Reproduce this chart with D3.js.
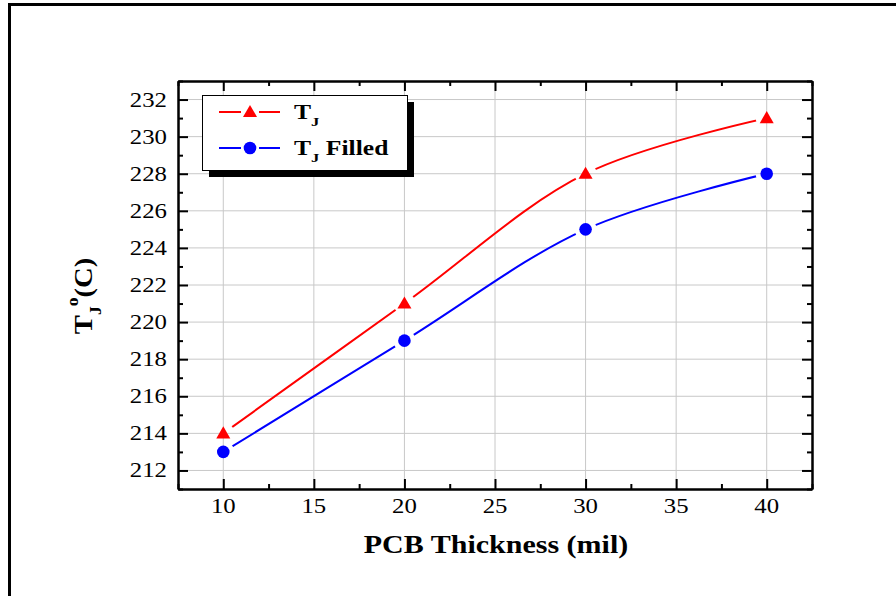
<!DOCTYPE html>
<html>
<head>
<meta charset="UTF-8">
<title>TJ vs PCB thickness</title>
<script src="https://d3js.org/d3.v7.min.js"></script>
<style>
body { margin:0; background:white; }
text { font-family: "Liberation Serif", "Times New Roman", serif; }
</style>
</head>
<body>
<script type="text/javascript">
// data
var thickness = [10, 20, 30, 40]
var tj = [214, 221, 228, 231]
var tjFilled = [213, 219, 225, 228]
var xTicks = [10, 15, 20, 25, 30, 35, 40]
var yTicks = [212, 214, 216, 218, 220, 222, 224, 226, 228, 230, 232]
var seriesNames = ["T", "T"]

var svg = d3.select("body")
 .append("svg")
 .attr("width", 896)
 .attr("height", 596)
 .style("background", "white")

// outer frame (only left + top visible)
svg.append("path")
 .attr("d", "M9.5,596 V4.5 H896")
 .attr("fill", "none")
 .attr("stroke", "black")
 .attr("stroke-width", 3)

var pLeft = 178, pRight = 812, pTop = 81, pBottom = 489
var x = d3.scaleLinear().domain([7.5, 42.5]).range([pLeft, pRight])
var y = d3.scaleLinear().domain([211, 233]).range([pBottom, pTop])

// grid
var g = svg.append("g")
g.selectAll(".gx").data(xTicks).enter().append("line")
 .attr("x1", d => x(d)).attr("x2", d => x(d))
 .attr("y1", pTop).attr("y2", pBottom)
 .attr("stroke", "#c8c8c8").attr("stroke-width", 1)
g.selectAll(".gy").data(yTicks).enter().append("line")
 .attr("y1", d => y(d)).attr("y2", d => y(d))
 .attr("x1", pLeft).attr("x2", pRight)
 .attr("stroke", "#c8c8c8").attr("stroke-width", 1)

// axes, ticks pointing inward
var xMinor = d3.range(7.5, 42.6, 2.5).filter(d => d % 5 != 0)
var yMinor = d3.range(211, 233.1, 1).filter(d => d % 2 != 0)

function axisStyle(sel) {
  sel.select(".domain").attr("stroke-width", 2)
  sel.selectAll(".tick line").attr("stroke-width", 2)
  sel.selectAll("text").remove()
}

svg.append("g").attr("transform", "translate(0," + pBottom + ")")
 .call(d3.axisBottom(x).tickValues(xTicks).tickSizeInner(-10).tickSizeOuter(0)).call(axisStyle)
svg.append("g").attr("transform", "translate(0," + pBottom + ")")
 .call(d3.axisBottom(x).tickValues(xMinor).tickSizeInner(-5).tickSizeOuter(0)).call(axisStyle)
svg.append("g").attr("transform", "translate(0," + pTop + ")")
 .call(d3.axisTop(x).tickValues(xTicks).tickSizeInner(-10).tickSizeOuter(0)).call(axisStyle)
svg.append("g").attr("transform", "translate(0," + pTop + ")")
 .call(d3.axisTop(x).tickValues(xMinor).tickSizeInner(-5).tickSizeOuter(0)).call(axisStyle)
svg.append("g").attr("transform", "translate(" + pLeft + ",0)")
 .call(d3.axisLeft(y).tickValues(yTicks).tickSizeInner(-10).tickSizeOuter(0)).call(axisStyle)
svg.append("g").attr("transform", "translate(" + pLeft + ",0)")
 .call(d3.axisLeft(y).tickValues(yMinor).tickSizeInner(-5).tickSizeOuter(0)).call(axisStyle)
svg.append("g").attr("transform", "translate(" + pRight + ",0)")
 .call(d3.axisRight(y).tickValues(yTicks).tickSizeInner(-10).tickSizeOuter(0)).call(axisStyle)
svg.append("g").attr("transform", "translate(" + pRight + ",0)")
 .call(d3.axisRight(y).tickValues(yMinor).tickSizeInner(-5).tickSizeOuter(0)).call(axisStyle)

// tick labels (the source text is a little stretched sideways)
svg.selectAll(".xl").data(xTicks).enter().append("text")
 .attr("transform", d => "translate(" + x(d) + ",513) scale(1.18,1)")
 .attr("text-anchor", "middle").attr("font-size", 21)
 .text(d => d)
svg.selectAll(".yl").data(yTicks).enter().append("text")
 .attr("transform", d => "translate(167," + (y(d) + 7) + ") scale(1.18,1)")
 .attr("text-anchor", "end").attr("font-size", 21)
 .text(d => d)

// axis titles
svg.append("text")
 .attr("transform", "translate(496,553) scale(1.2,1)")
 .attr("text-anchor", "middle").attr("font-size", 25).attr("font-weight", "bold")
 .text("PCB Thickness (mil)")

var yt = svg.append("text")
 .attr("transform", "translate(92,296) rotate(-90) scale(1.1,1)")
 .attr("text-anchor", "middle").attr("font-size", 26).attr("font-weight", "bold")
yt.append("tspan").text("T")
yt.append("tspan").attr("font-size", 16).attr("dy", 9).text("J")
yt.append("tspan").attr("font-size", 16).attr("dy", -23).text("o")
yt.append("tspan").attr("dy", 14).text("(C)")

// gap mask around markers
var defs = svg.append("defs")
function makeMask(id, vals) {
  var m = defs.append("mask").attr("id", id).attr("maskUnits", "userSpaceOnUse")
   .attr("x", 0).attr("y", 0).attr("width", 896).attr("height", 596)
  m.append("rect").attr("width", 896).attr("height", 596).attr("fill", "white")
  m.selectAll("circle").data(thickness).enter().append("circle")
   .attr("cx", d => x(d)).attr("cy", (d, i) => y(vals[i])).attr("r", 11).attr("fill", "black")
}
makeMask("m1", tj)
makeMask("m2", tjFilled)

var line = d3.line().x((d, i) => x(thickness[i])).y(d => y(d)).curve(d3.curveCatmullRom.alpha(0.5))

svg.append("path").datum(tj).attr("d", line)
 .attr("fill", "none").attr("stroke", "red").attr("stroke-width", 2).attr("mask", "url(#m1)")
svg.append("path").datum(tjFilled).attr("d", line)
 .attr("fill", "none").attr("stroke", "blue").attr("stroke-width", 2).attr("mask", "url(#m2)")

var tri = d3.symbol().type(d3.symbolTriangle).size(85)
svg.selectAll(".tri").data(tj).enter().append("path")
 .attr("d", tri)
 .attr("transform", (d, i) => "translate(" + x(thickness[i]) + "," + (y(d) + 1) + ")")
 .attr("fill", "red")
svg.selectAll(".dot").data(tjFilled).enter().append("circle")
 .attr("cx", (d, i) => x(thickness[i])).attr("cy", d => y(d)).attr("r", 6.3)
 .attr("fill", "blue")

// legend
var lg = svg.append("g")
lg.append("rect").attr("x", 209).attr("y", 102).attr("width", 205).attr("height", 75).attr("fill", "black")
lg.append("rect").attr("x", 202.5).attr("y", 95.5).attr("width", 205).attr("height", 75)
 .attr("fill", "white").attr("stroke", "black").attr("stroke-width", 1)
var legY = [112, 148]
var legCol = ["red", "blue"]
legY.forEach(function(ly, i) {
  lg.append("line").attr("x1", 219).attr("x2", 241).attr("y1", ly).attr("y2", ly)
   .attr("stroke", legCol[i]).attr("stroke-width", 2)
  lg.append("line").attr("x1", 259).attr("x2", 280).attr("y1", ly).attr("y2", ly)
   .attr("stroke", legCol[i]).attr("stroke-width", 2)
  var t = lg.append("text").attr("transform", "translate(294," + (ly + 7) + ") scale(1.28,1)")
   .attr("font-size", 20).attr("font-weight", "bold")
  t.append("tspan").text(seriesNames[i])
  t.append("tspan").attr("font-size", 13).attr("dy", 7).text("J")
  if (i == 1) t.append("tspan").attr("dy", -7).text(" Filled")
})
lg.append("path").attr("d", tri).attr("transform", "translate(250,113)").attr("fill", "red")
lg.append("circle").attr("cx", 250).attr("cy", 148).attr("r", 6.3).attr("fill", "blue")
</script>
</body>
</html>
